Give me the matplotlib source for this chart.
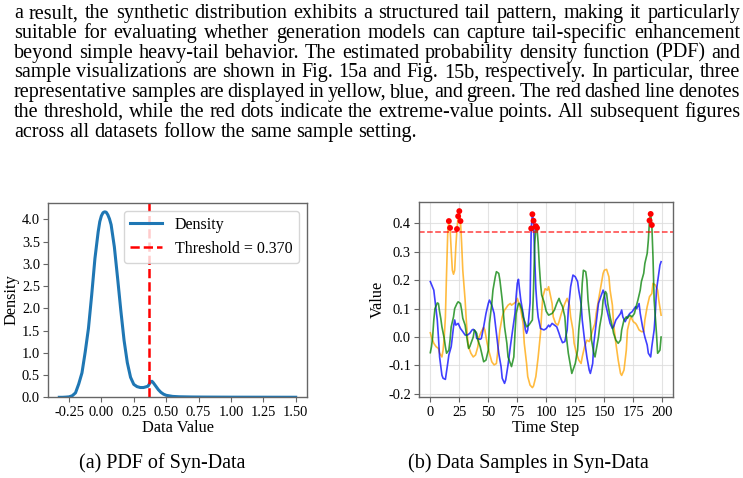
import matplotlib
matplotlib.use("Agg")
import matplotlib.pyplot as plt
import numpy as np

plt.rcParams['font.family'] = ['Liberation Serif', 'DejaVu Serif']
plt.rcParams['axes.unicode_minus'] = False

# ---------------- paragraph text ----------------
para_lines = [
    "a result, the synthetic distribution exhibits a structured tail pattern, making it particularly",
    "suitable for evaluating whether generation models can capture tail-specific enhancement",
    "beyond simple heavy-tail behavior. The estimated probability density function (PDF) and",
    "sample visualizations are shown in Fig. 15a and Fig. 15b, respectively. In particular, three",
    "representative samples are displayed in yellow, blue, and green. The red dashed line denotes",
    "the threshold, while the red dots indicate the extreme-value points. All subsequent figures",
    "across all datasets follow the same sample setting.",
]
caption_a = "(a) PDF of Syn-Data"
caption_b = "(b) Data Samples in Syn-Data"

# ---------------- (a) PDF data ----------------
threshold = 0.370
pdf_x = [-0.325, -0.300, -0.275, -0.250, -0.225, -0.200, -0.175, -0.150, -0.125, -0.100,
         -0.075, -0.050, -0.025, -0.0125, 0.000, 0.0125, 0.025, 0.0375, 0.050, 0.0625,
         0.075, 0.100, 0.125, 0.150,
         0.175, 0.200, 0.225, 0.250, 0.275, 0.300, 0.325, 0.350, 0.360, 0.370,
         0.380, 0.390, 0.400, 0.420, 0.440, 0.460, 0.480, 0.500, 0.550, 0.600,
         0.700, 0.800, 1.000, 1.250, 1.500]
pdf_y = [0.000, 0.000, 0.004, 0.010, 0.035, 0.100, 0.300, 0.550, 1.020, 1.550,
         2.300, 3.120, 3.720, 3.950, 4.080, 4.150, 4.170, 4.160, 4.100, 4.010,
         3.880, 3.380, 2.680, 1.950,
         1.280, 0.780, 0.450, 0.290, 0.240, 0.220, 0.220, 0.240, 0.250, 0.300,
         0.350, 0.360, 0.330, 0.250, 0.170, 0.110, 0.070, 0.045, 0.020, 0.012,
         0.007, 0.005, 0.003, 0.002, 0.001]
pdf_xticks = [-0.25, 0.00, 0.25, 0.50, 0.75, 1.00, 1.25, 1.50]
pdf_yticks = [0.0, 0.5, 1.0, 1.5, 2.0, 2.5, 3.0, 3.5, 4.0]

# ---------------- (b) samples ----------------
orange_t = [0, 1, 3, 5, 7, 8, 10, 11, 12, 13, 14, 15, 16, 17, 18, 19, 20, 21, 22, 23,
            24, 25, 26, 27, 28, 30, 31, 32, 33, 35, 37, 39, 41, 42, 44, 46, 47, 49, 51, 53,
            55, 57, 58, 60, 62, 64, 65, 67, 69, 70, 72, 74, 75, 77, 78, 80, 81, 83, 84, 86,
            88, 89, 91, 93, 95, 96, 97, 99, 101, 102, 105, 106, 108, 110, 111, 113, 115, 116, 118, 120,
            121, 123, 124, 126, 128, 130, 131, 133, 135, 137, 138, 140, 142, 143, 145, 147, 149, 150, 152, 154,
            155, 157, 158, 160, 162, 164, 165, 167, 169, 170, 172, 173, 175, 177, 178, 180, 182, 184, 185, 187,
            189, 191, 192, 194, 196, 197, 199]
orange_v = [0.015, 0.000, -0.022, -0.034, -0.040, -0.057, -0.070, -0.046, 0.000, 0.070,
            0.224, 0.364, 0.408, 0.384, 0.306, 0.235, 0.221, 0.235, 0.318, 0.380,
            0.425, 0.443, 0.408, 0.330, 0.235, 0.130, 0.060, 0.000, -0.034, -0.057,
            -0.070, -0.063, -0.034, 0.000, 0.019, 0.034, 0.025, -0.022, -0.057, -0.087,
            -0.098, -0.093, -0.057, 0.025, 0.071, 0.095, 0.100, 0.112, 0.118, 0.112,
            0.118, 0.124, 0.136, 0.112, 0.095, 0.048, -0.022, -0.093, -0.139, -0.169,
            -0.178, -0.172, -0.139, -0.070, 0.013, 0.083, 0.142, 0.170, 0.165, 0.177,
            0.118, 0.071, 0.048, 0.042, 0.054, 0.083, 0.107, 0.118, 0.136, 0.112,
            0.071, 0.025, -0.022, -0.057, -0.081, -0.093, -0.070, -0.034, -0.011, -0.016,
            -0.005, 0.025, 0.048, 0.083, 0.130, 0.177, 0.224, 0.235, 0.238, 0.212,
            0.165, 0.112, 0.048, -0.022, -0.081, -0.128, -0.135, -0.116, -0.046, 0.025,
            0.060, 0.071, 0.054, 0.048, 0.042, 0.025, 0.019, 0.019, 0.060, 0.107,
            0.142, 0.153, 0.189, 0.183, 0.165, 0.130, 0.077]

blue_t = [0, 3, 4, 6, 7, 8, 10, 11, 13, 15, 16, 18, 19, 20, 21, 22, 24, 26, 28, 30,
          32, 34, 36, 37, 39, 40, 43, 44, 46, 48, 50, 51, 53, 55, 57, 59, 61, 62, 64, 65,
          67, 69, 71, 73, 74, 75, 76, 77, 78, 80, 82, 83, 84, 86, 87, 88, 89, 90, 91, 92,
          93, 95, 98, 100, 102, 103, 105, 107, 109, 111, 112, 114, 116, 118, 119, 121, 123, 125, 127, 128,
          130, 131, 133, 135, 137, 138, 140, 141, 143, 145, 147, 149, 150, 151, 153, 155, 157, 158, 160, 162,
          164, 165, 166, 168, 170, 172, 174, 175, 177, 178, 180, 181, 183, 185, 187, 188, 190, 191, 193, 194,
          195, 197, 198, 199]
blue_v = [0.195, 0.165, 0.130, 0.060, 0.000, -0.070, -0.134, -0.145, -0.149, -0.093,
          -0.063, -0.034, 0.000, 0.036, 0.060, 0.042, 0.048, 0.030, 0.019, 0.007,
          0.007, 0.013, 0.025, 0.027, 0.019, -0.005, -0.008, -0.005, 0.036, 0.083,
          0.118, 0.130, 0.112, 0.083, 0.013, -0.057, -0.104, -0.145, -0.163, -0.151,
          -0.098, -0.034, 0.025, 0.083, 0.142, 0.189, 0.203, 0.165, 0.130, 0.083,
          0.025, 0.013, 0.025, 0.120, 0.382, 0.432, 0.409, 0.280, 0.170, 0.110,
          0.070, 0.030, 0.025, 0.030, 0.042, 0.036, 0.048, 0.042, 0.036, 0.013,
          0.000, -0.020, -0.016, 0.025, 0.095, 0.177, 0.218, 0.212, 0.195, 0.165,
          0.118, 0.060, -0.011, -0.070, -0.116, -0.128, -0.093, -0.022, 0.048, 0.118,
          0.142, 0.165, 0.153, 0.118, 0.083, 0.048, 0.030, 0.036, 0.060, 0.071,
          0.083, 0.095, 0.071, 0.054, 0.071, 0.083, 0.089, 0.095, 0.107, 0.100,
          0.118, 0.083, 0.036, 0.000, -0.028, -0.057, -0.070, -0.034, 0.025, 0.083,
          0.165, 0.224, 0.253, 0.265]

green_t = [0, 1, 2, 3, 4, 6, 7, 8, 9, 10, 12, 13, 14, 16, 17, 18, 20, 21, 23, 24,
           26, 27, 28, 30, 31, 32, 33, 34, 36, 37, 38, 40, 41, 43, 45, 46, 48, 50, 51, 53,
           54, 56, 57, 59, 60, 62, 63, 64, 66, 67, 69, 70, 72, 73, 74, 76, 77, 79, 80, 82,
           83, 85, 86, 88, 89, 90, 91, 92, 93, 94, 95, 96, 98, 100, 102, 105, 107, 109, 111, 112,
           114, 116, 117, 119, 121, 122, 124, 125, 127, 128, 130, 131, 132, 134, 135, 136, 138, 139, 141, 142,
           143, 145, 146, 148, 149, 151, 152, 153, 155, 157, 158, 160, 162, 164, 165, 167, 169, 170, 172, 174,
           176, 177, 179, 181, 182, 184, 185, 187, 188, 189, 190, 191, 192, 193, 195, 196, 197, 198, 199]
green_v = [-0.055, -0.034, 0.000, 0.060, 0.100, 0.120, 0.118, 0.089, 0.066, 0.036,
           -0.005, -0.034, -0.057, -0.046, -0.011, 0.036, 0.071, 0.100, 0.118, 0.124,
           0.118, 0.095, 0.066, 0.042, 0.013, -0.016, -0.040, -0.034, -0.011, 0.000,
           0.025, 0.013, -0.011, -0.034, -0.070, -0.087, -0.081, -0.046, 0.048, 0.118,
           0.165, 0.212, 0.230, 0.224, 0.200, 0.130, 0.083, 0.036, -0.022, -0.070,
           -0.093, -0.104, -0.070, 0.013, 0.083, 0.118, 0.118, 0.095, 0.071, 0.048,
           0.036, 0.042, 0.048, 0.060, 0.170, 0.323, 0.390, 0.384, 0.330, 0.250,
           0.190, 0.148, 0.124, 0.090, 0.077, 0.083, 0.095, 0.118, 0.136, 0.124,
           0.107, 0.071, 0.013, -0.057, -0.104, -0.128, -0.104, -0.093, -0.046, 0.025,
           0.107, 0.189, 0.235, 0.230, 0.200, 0.130, 0.048, -0.011, -0.057, -0.070,
           -0.046, 0.000, 0.036, 0.083, 0.130, 0.160, 0.153, 0.118, 0.071, 0.036,
           0.013, -0.011, -0.022, -0.011, 0.025, 0.060, 0.071, 0.066, 0.077, 0.071,
           0.083, 0.100, 0.130, 0.165, 0.195, 0.224, 0.259, 0.294, 0.341, 0.410,
           0.433, 0.394, 0.282, 0.130, 0.013, -0.057, -0.052, -0.046, 0.000]

ts_xticks = [0, 25, 50, 75, 100, 125, 150, 175, 200]
ts_yticks = [-0.2, -0.1, 0.0, 0.1, 0.2, 0.3, 0.4]

# ---------------- figure ----------------
W, H = 743, 478
fig = plt.figure(figsize=(W / 100, H / 100), dpi=100)

def px_rect(x0, y0, x1, y1):
    return [x0 / W, 1 - y1 / H, (x1 - x0) / W, (y1 - y0) / H]

spine_col = '#666666'
tick_fs = 10.4
label_fs = 11.8

def style_axes(ax):
    for s in ax.spines.values():
        s.set_color(spine_col)
        s.set_linewidth(1.0)
    ax.tick_params(colors=spine_col, labelcolor='black', labelsize=tick_fs,
                   length=3.5, width=0.8, pad=2.5)

# (a)
ax1 = fig.add_axes(px_rect(48.3, 202.7, 306.7, 397.3))
ax1.plot(pdf_x, pdf_y, color='#1f77b4', lw=2.2, label='Density')
ax1.axvline(threshold, color='red', ls='--', lw=1.8, label=f'Threshold = {threshold:.3f}')
ax1.set_xlim(-0.41, 1.585)
ax1.set_ylim(0, 4.375)
ax1.set_xticks(pdf_xticks)
ax1.set_xticklabels([f'{v:.2f}' for v in pdf_xticks])
ax1.set_yticks(pdf_yticks)
ax1.set_yticklabels([f'{v:.1f}' for v in pdf_yticks])
ax1.set_xlabel('Data Value', fontsize=label_fs, labelpad=1)
ax1.set_ylabel('Density', fontsize=label_fs, labelpad=2)
style_axes(ax1)
ax1.legend(loc='upper right', fontsize=11.5, framealpha=0.8, edgecolor='#cccccc',
           handlelength=2.0, borderaxespad=0.5)

# (b)
ax2 = fig.add_axes(px_rect(419.3, 202.3, 672.7, 397.3))
ax2.grid(True, color='#dddddd', lw=0.8, alpha=0.8)
ax2.set_axisbelow(True)
series = [(orange_t, orange_v, 'orange'), (blue_t, blue_v, 'blue'), (green_t, green_v, 'green')]
for t, v, c in series:
    ax2.plot(t, v, color=c, lw=1.2, alpha=0.75)
ax2.axhline(threshold, color='red', ls='--', lw=1.1, alpha=0.75)
for t, v, c in series:
    ta, va = np.array(t), np.array(v)
    m = va > threshold
    ax2.scatter(ta[m], va[m], color='red', s=18, zorder=5, edgecolors='none')
ax2.set_xlim(-9.5, 209)
ax2.set_ylim(-0.212, 0.474)
ax2.set_xticks(ts_xticks)
ax2.set_yticks(ts_yticks)
ax2.set_yticklabels([f'{v:.1f}' for v in ts_yticks])
ax2.set_xlabel('Time Step', fontsize=label_fs, labelpad=1)
ax2.set_ylabel('Value', fontsize=label_fs, labelpad=2)
style_axes(ax2)

# ---------------- paragraph (justified) ----------------
para_fs = 14.5
x_left, x_right = 14.0, 740.0
base0, line_gap = 18.3, 19.73
renderer = fig.canvas.get_renderer()

def word_width(w):
    t = fig.text(0, 0, w, fontsize=para_fs)
    bb = t.get_window_extent(renderer=renderer)
    t.remove()
    return bb.width

space_w = word_width('a b') - word_width('a') - word_width('b')
for i, line in enumerate(para_lines):
    words = line.split(' ')
    widths = [word_width(w) for w in words]
    if i < len(para_lines) - 1 and len(words) > 1:
        gap = (x_right - x_left - sum(widths)) / (len(words) - 1)
    else:
        gap = space_w
    x = x_left
    y = base0 + i * line_gap
    for w, wd in zip(words, widths):
        fig.text(x / W, 1 - y / H, w, fontsize=para_fs, va='baseline', ha='left')
        x += wd + gap

# captions
fig.text(162 / W, 1 - 468 / H, caption_a, fontsize=para_fs, va='baseline', ha='center')
fig.text(528 / W, 1 - 468 / H, caption_b, fontsize=para_fs, va='baseline', ha='center')

fig.savefig('out.png', dpi=100)
